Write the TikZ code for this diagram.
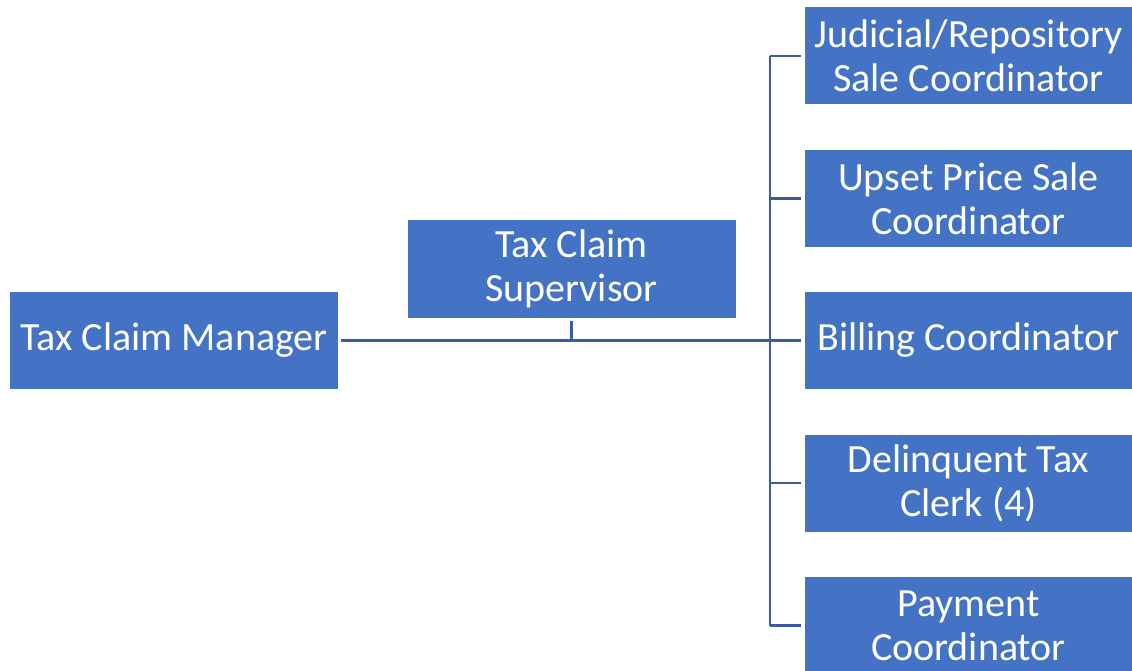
\documentclass[tikz,border=0pt]{standalone}
\usepackage{fontspec}
\setmainfont{Carlito}
\definecolor{boxblue}{HTML}{4472C4}
\definecolor{lineblue}{HTML}{3A5DA2}
\begin{document}
\begin{tikzpicture}[x=1bp,y=-1bp,
  orgbox/.style={rectangle, fill=boxblue, minimum width=328bp, minimum height=97bp,
    inner sep=0pt, align=center, text=white, font=\fontsize{40bp}{44bp}\selectfont},
  mainline/.style={draw=lineblue, line width=3bp},
  branchline/.style={draw=lineblue, line width=2.2bp}]
\useasboundingbox (0,0) rectangle (1132,671);
\begin{scope}
\clip (0,0) rectangle (1132,671);
\node[orgbox] (mgr) at (174,340.5) {Tax Claim Manager};
\node[orgbox] (sup) at (571.5,269) {Tax Claim\\Supervisor};
\node[orgbox] (b1) at (968.5,56) {Judicial/Repository\\Sale Coordinator};
\node[orgbox] (b2) at (968.5,198.5) {Upset Price Sale\\Coordinator};
\node[orgbox] (b3) at (968.5,340.5) {Billing Coordinator};
\node[orgbox] (b4) at (968.5,483) {Delinquent Tax\\Clerk (4)};
\node[orgbox] (b5) at (968.5,625.5) {Payment\\Coordinator};
\end{scope}
\coordinate (bustop) at (770,56);
\coordinate (busbot) at (770,626);
\coordinate (busmid) at (770,340.5);
\draw[branchline] (bustop) -- (busbot);
\draw[mainline] ([xshift=3bp]mgr.east) -- (busmid);
\draw[branchline] ([yshift=-3bp]sup.south) -- (sup.south |- mgr.east);
\foreach \b in {b1,b2,b3,b4,b5}{
  \draw[branchline] (bustop |- \b.west) -- ([xshift=-3bp]\b.west);
}
\end{tikzpicture}
\end{document}
